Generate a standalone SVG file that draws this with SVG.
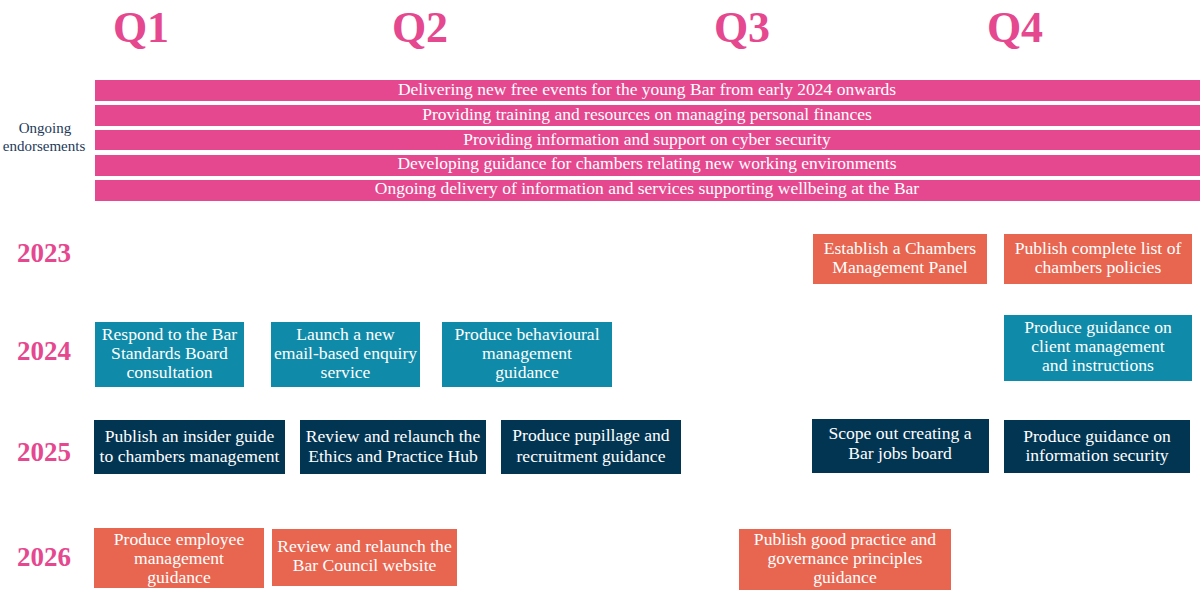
<svg xmlns="http://www.w3.org/2000/svg" width="1200" height="600" viewBox="0 0 1200 600">
<style>
text{font-family:"Liberation Serif","DejaVu Serif",serif;}
.q{font-size:44px;font-weight:bold;fill:#E5488F;text-anchor:middle;}
.yr{font-size:27px;font-weight:bold;fill:#E5488F;text-anchor:middle;}
.side{font-size:15px;fill:#1E3A5A;text-anchor:middle;}
.bar{fill:#E5488F;}
.bt{font-size:17.5px;fill:#fff;text-anchor:middle;}
.coral{fill:#E8654F;}
.teal{fill:#0F8AA8;}
.navy{fill:#023552;}
.t{font-size:17.6px;fill:#fff;text-anchor:middle;}
</style>
<rect width="1200" height="600" fill="#fff"/>
<g id="headers">
<text class="q" x="141" y="42">Q1</text>
<text class="q" x="420" y="42">Q2</text>
<text class="q" x="742" y="42">Q3</text>
<text class="q" x="1015" y="42">Q4</text>
</g>
<g id="ongoing">
<text class="side" x="45" y="133">Ongoing</text>
<text class="side" x="44" y="151">endorsements</text>
<rect class="bar" x="95" y="80" width="1105" height="21"/>
<text class="bt" x="647" y="95">Delivering new free events for the young Bar from early 2024 onwards</text>
<rect class="bar" x="95" y="105" width="1105" height="21"/>
<text class="bt" x="647" y="120">Providing training and resources on managing personal finances</text>
<rect class="bar" x="95" y="130" width="1105" height="20"/>
<text class="bt" x="647" y="145">Providing information and support on cyber security</text>
<rect class="bar" x="95" y="155" width="1105" height="21"/>
<text class="bt" x="647" y="169">Developing guidance for chambers relating new working environments</text>
<rect class="bar" x="95" y="180" width="1105" height="21"/>
<text class="bt" x="647" y="194">Ongoing delivery of information and services supporting wellbeing at the Bar</text>
</g>
<g id="years">
<text class="yr" x="44" y="262">2023</text>
<text class="yr" x="44" y="360">2024</text>
<text class="yr" x="44" y="461">2025</text>
<text class="yr" x="44" y="566">2026</text>
</g>
<g id="n2023a"><rect class="coral" x="813" y="234" width="174" height="50"/>
<text class="t" x="900" y="254">Establish a Chambers</text><text class="t" x="900" y="273">Management Panel</text></g>
<g id="n2023b"><rect class="coral" x="1004" y="234" width="188" height="50"/>
<text class="t" x="1098" y="254">Publish complete list of</text><text class="t" x="1098" y="273">chambers policies</text></g>
<g id="n2024a"><rect class="teal" x="95" y="322" width="149" height="65"/>
<text class="t" x="169.5" y="340">Respond to the Bar</text><text class="t" x="169.5" y="359">Standards Board</text><text class="t" x="169.5" y="378">consultation</text></g>
<g id="n2024b"><rect class="teal" x="271" y="322" width="149" height="65"/>
<text class="t" x="345.5" y="340">Launch a new</text><text class="t" x="345.5" y="359">email-based enquiry</text><text class="t" x="345.5" y="378">service</text></g>
<g id="n2024c"><rect class="teal" x="442" y="322" width="170" height="65"/>
<text class="t" x="527" y="340">Produce behavioural</text><text class="t" x="527" y="359">management</text><text class="t" x="527" y="378">guidance</text></g>
<g id="n2024d"><rect class="teal" x="1004" y="315" width="188" height="66"/>
<text class="t" x="1098" y="333">Produce guidance on</text><text class="t" x="1098" y="352">client management</text><text class="t" x="1098" y="371">and instructions</text></g>
<g id="n2025a"><rect class="navy" x="94" y="420" width="191" height="54"/>
<text class="t" x="189.5" y="442">Publish an insider guide</text><text class="t" x="189.5" y="462">to chambers management</text></g>
<g id="n2025b"><rect class="navy" x="300" y="420" width="186" height="54"/>
<text class="t" x="393" y="442">Review and relaunch the</text><text class="t" x="393" y="462">Ethics and Practice Hub</text></g>
<g id="n2025c"><rect class="navy" x="501" y="420" width="180" height="54"/>
<text class="t" x="591" y="441">Produce pupillage and</text><text class="t" x="591" y="462">recruitment guidance</text></g>
<g id="n2025d"><rect class="navy" x="812" y="419" width="177" height="54"/>
<text class="t" x="900" y="439">Scope out creating a</text><text class="t" x="900" y="459">Bar jobs board</text></g>
<g id="n2025e"><rect class="navy" x="1004" y="420" width="186" height="53"/>
<text class="t" x="1097" y="442">Produce guidance on</text><text class="t" x="1097" y="461">information security</text></g>
<g id="n2026a"><rect class="coral" x="94" y="528" width="170" height="60"/>
<text class="t" x="179" y="545">Produce employee</text><text class="t" x="179" y="564">management</text><text class="t" x="179" y="583">guidance</text></g>
<g id="n2026b"><rect class="coral" x="272" y="529" width="185" height="57"/>
<text class="t" x="364.5" y="552">Review and relaunch the</text><text class="t" x="364.5" y="571">Bar Council website</text></g>
<g id="n2026c"><rect class="coral" x="739" y="529" width="212" height="61"/>
<text class="t" x="845" y="545">Publish good practice and</text><text class="t" x="845" y="564">governance principles</text><text class="t" x="845" y="583">guidance</text></g>
<g id="connectors"></g>
</svg>
